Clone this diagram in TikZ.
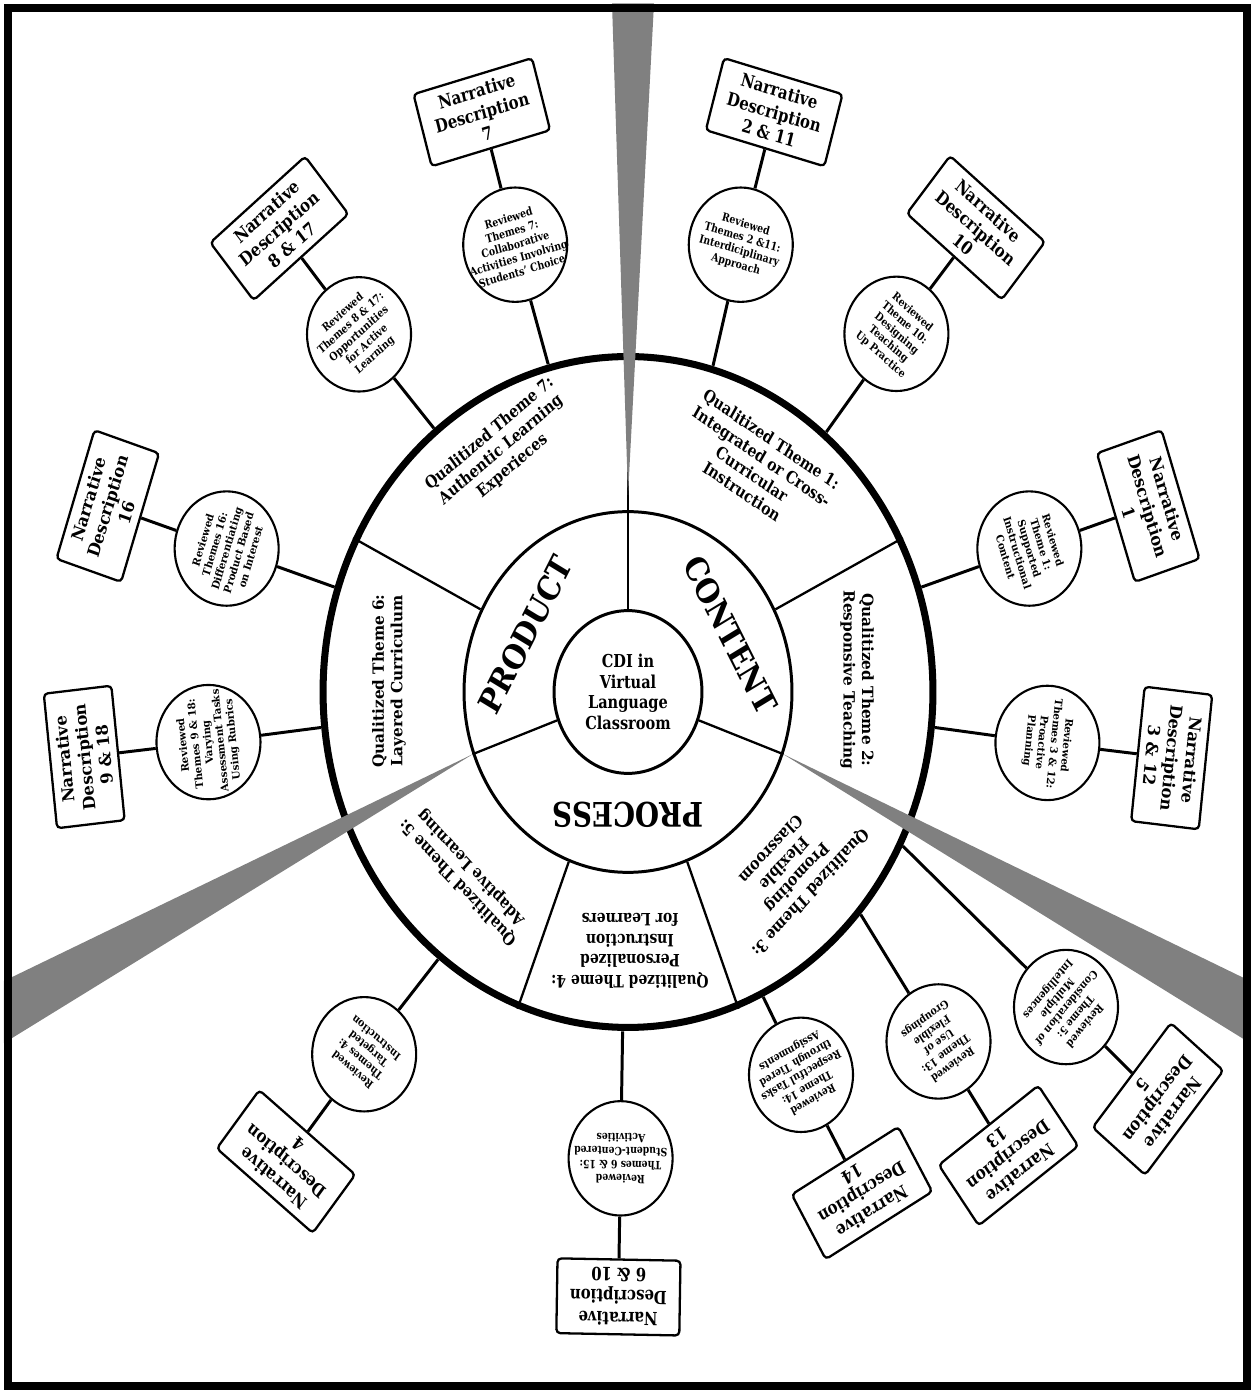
\documentclass[tikz,border=0pt]{standalone}
\usepackage{fontspec}
\setmainfont{DejaVu Serif}[FakeStretch=0.9]
\usepackage{tikz}

\begin{document}
\begin{tikzpicture}[x=0.02cm, y=0.02cm,
  ring/.style={draw, circle, line width=4pt, minimum size=12.2cm},
  midring/.style={draw, circle, line width=1.7pt, minimum size=6.56cm},
  coreball/.style={draw, circle, line width=1.7pt, minimum size=2.96cm, inner sep=0pt, align=center, font=\bfseries\fontsize{9.2}{10.6}\selectfont},
  divider/.style={line width=1.3pt},
  conn/.style={line width=1.7pt},
  bubble/.style={draw, circle, fill=white, line width=1.2pt, minimum size=2.08cm, inner sep=0pt},
  btext/.style={align=center, inner sep=0pt, font=\bfseries\fontsize{5.9}{7.1}\selectfont},
  narr/.style={draw, rectangle, rounded corners=0.08cm, fill=white, line width=1.3pt, minimum width=2.46cm, minimum height=1.36cm, inner sep=1pt, align=center, font=\bfseries\fontsize{9.4}{11.4}\selectfont},
  qtheme/.style={align=center, inner sep=0pt, font=\bfseries\fontsize{8.8}{10.6}\selectfont},
  dimlabel/.style={inner sep=0pt, font=\bfseries\fontsize{17.5}{20}\selectfont},
  wedgefill/.style={fill=black!50}]
\useasboundingbox (-628,-699) rectangle (623,692);
\begin{scope}[yscale=1.1, transform shape]
\node[ring] (outer) at (0,0) {};
\node[midring] (mid) at (0,0) {};
\node[coreball] (core) at (0,0) {CDI in\\Virtual\\Language\\Classroom};
% sector lines
\draw[divider] (core.90) -- (mid.90) -- (outer.90);
\draw[divider] (core.200) -- (mid.200);
\draw[divider] (core.340) -- (mid.340);
\draw[divider] (mid.27) -- (outer.27);
\draw[divider] (mid.153) -- (outer.153);
\draw[divider] (mid.249) -- (outer.249);
\draw[divider] (mid.291) -- (outer.291);
\fill[wedgefill] (0,179) -- (-16,626) -- (26,626) -- cycle;
\fill[wedgefill] (-155,-56.4) -- (-624,-262.7) -- (-624,-319.1) -- cycle;
\fill[wedgefill] (155,-56.4) -- (622,-262.7) -- (622,-319.1) -- cycle;
\node[dimlabel, rotate=61] (lprod) at (153:115) {PRODUCT};
\node[dimlabel, rotate=-61] (lcont) at (27:115) {CONTENT};
\node[dimlabel, rotate=180] (lproc) at (-90:112) {PROCESS};
\node[qtheme, rotate=38] (q7) at (120:254) {Qualitized Theme 7:\\Authentic Learning\\Experieces};
\node[qtheme, rotate=-32] (q1) at (58:243) {Qualitized Theme 1:\\Integrated or Cross-\\Curricular\\Instruction};
\node[qtheme, rotate=-90] (q2) at (229,11) {Qualitized Theme 2:\\Responsive Teaching};
\node[qtheme, rotate=-135] (q3) at (163,-163) {Qualitized Theme 3:\\Promoting\\Flexible\\Classroom};
\node[qtheme, rotate=180] (q4) at (2,-235.5) {Qualitized Theme 4:\\Personalized\\Instruction\\for Learners};
\node[qtheme, rotate=135.5] (q5) at (-134.5:233) {Qualitized Theme 5:\\Adaptive Learning};
\node[qtheme, rotate=90] (q6) at (-239,10) {Qualitized Theme 6:\\Layered Curriculum};
% reviewed themes and narrative descriptions
\node[bubble] (b7) at (105.5:422) {};
\node[btext, rotate=15.5] at (b7) {Reviewed\\Themes 7:\\Collaborative\\Activities Involving\\Students' Choice};
\node[narr, rotate=15.5] (n7) at (105.5:547) {Narrative\\Description\\7};
\draw[conn] (outer.105.5) -- (b7) -- (n7);
\node[bubble] (b8) at (129.6:422) {};
\node[btext, rotate=39.6] at (b8) {Reviewed\\Themes 8 \& 17:\\Opportunities\\for Active\\Learning};
\node[narr, rotate=39.6] (n8) at (129.6:547) {Narrative\\Description\\8 \& 17};
\draw[conn] (outer.129.6) -- (b8) -- (n8);
\node[bubble] (b2) at (74.5:422) {};
\node[btext, rotate=-15.5] at (b2) {Reviewed\\Themes 2 \&11:\\Interdiciplinary\\Approach};
\node[narr, rotate=-15.5] (n2) at (74.5:547) {Narrative\\Description\\2 \& 11};
\draw[conn] (outer.74.5) -- (b2) -- (n2);
\node[bubble] (b10) at (50.5:422) {};
\node[btext, rotate=-39.5] at (b10) {Reviewed\\Theme 10:\\Designing\\Teaching\\Up Practice};
\node[narr, rotate=-39.5] (n10) at (50.5:547) {Narrative\\Description\\10};
\draw[conn] (outer.50.5) -- (b10) -- (n10);
\node[bubble] (b1) at (18:422) {};
\node[btext, rotate=-72] at (b1) {Reviewed\\Theme 1:\\Supported\\Instructional\\Content};
\node[narr, rotate=-72] (n1) at (18:547) {Narrative\\Description\\1};
\draw[conn] (outer.18) -- (b1) -- (n1);
\node[bubble] (b3) at (-6.3:422) {};
\node[btext, rotate=-96.3] at (b3) {Reviewed\\Themes 3 \& 12:\\Proactive\\Planning};
\node[narr, rotate=-96.3] (n3) at (-6.3:547) {Narrative\\Description\\3 \& 12};
\draw[conn] (outer.-6.3) -- (b3) -- (n3);
\node[bubble] (b16) at (162:422) {};
\node[btext, rotate=72] at (b16) {Reviewed\\Themes 16:\\Differentiating\\Product Based\\on Interest};
\node[narr, rotate=72] (n16) at (162:547) {Narrative\\Description\\16};
\draw[conn] (outer.162) -- (b16) -- (n16);
\node[bubble] (b9) at (186.2:422) {};
\node[btext, rotate=96.2] at (b9) {Reviewed\\Themes 9 \& 18:\\Varying\\Assessment Tasks\\Using Rubrics};
\node[narr, rotate=96.2] (n9) at (186.2:547) {Narrative\\Description\\9 \& 18};
\draw[conn] (outer.186.2) -- (b9) -- (n9);
\node[bubble] (b4) at (-128.7:422) {};
\node[btext, rotate=141.3] at (b4) {Reviewed\\Themes 4:\\Targeted\\Instruction};
\node[narr, rotate=141.3] (n4) at (-128.7:547) {Narrative\\Description\\4};
\draw[conn] (outer.-128.7) -- (b4) -- (n4);
\node[bubble] (b6) at (-91:424) {};
\node[btext, rotate=179] at (b6) {Reviewed\\Themes 6 \& 15:\\Student-Centered\\Activities};
\node[narr, rotate=179] (n6) at (-91:550) {Narrative\\Description\\6 \& 10};
\draw[conn] (outer.-91) -- (b6) -- (n6);
\node[bubble] (b14) at (173,-348) {};
\node[btext, rotate=-152] at (b14) {Reviewed\\Theme 14:\\Respectful Tasks\\through Tiered\\Assignments};
\node[narr, rotate=-150] (n14) at (234,-455.5) {Narrative\\Description\\14};
\draw[conn] (outer.-64.3) -- (b14) -- (n14);
\node[bubble] (b13) at (310.5,-317.7) {};
\node[btext, rotate=-146] at (b13) {Reviewed\\Theme 13:\\Use of\\Flexible\\Groupings};
\node[narr, rotate=-144] (n13) at (380.5,-421.4) {Narrative\\Description\\13};
\draw[conn] (outer.-41.3) -- (b13) -- (n13);
\node[bubble] (b5) at (438,-286.4) {};
\node[btext, rotate=-132] at (b5) {Reviewed\\Theme 5:\\Consideration of\\Multiple\\Intelligences};
\node[narr, rotate=-129.5] (n5) at (530,-370) {Narrative\\Description\\5};
\draw[conn] (outer.-27.6) -- (b5) -- (n5);
\end{scope}
\draw[line width=4.5pt] (-620,684) rectangle (619,-694);
\end{tikzpicture}
\end{document}
